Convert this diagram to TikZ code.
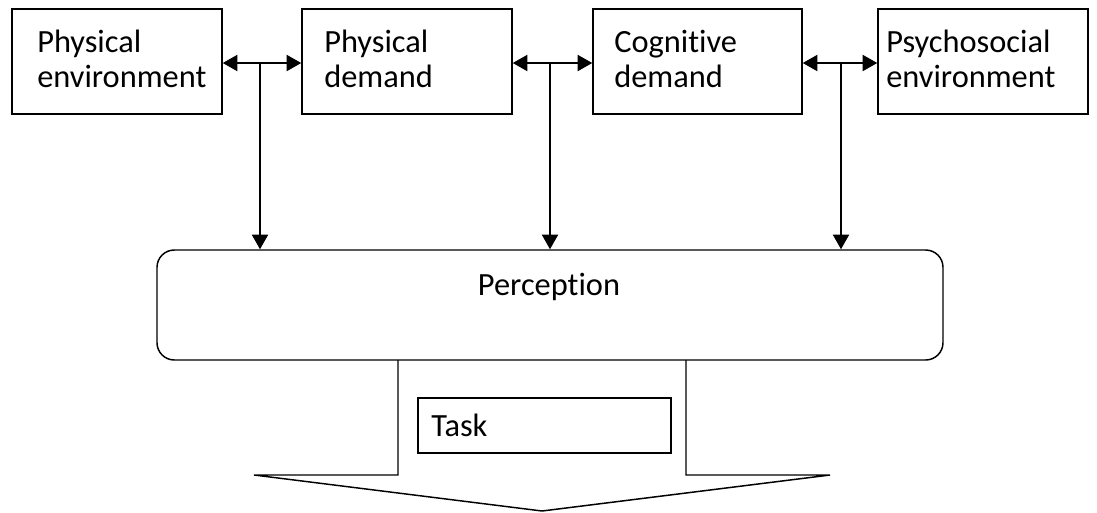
\documentclass[tikz,border=0pt]{standalone}
\usepackage{fontspec}
\setmainfont{Carlito}[Ligatures={NoCommon,NoContextual}]
\usetikzlibrary{arrows.meta}
\begin{document}
\begin{tikzpicture}[x=0.75pt,y=-0.75pt,
  box/.style={draw,line width=1.1pt},
  topbox/.style={box,minimum width=157.5pt,minimum height=78.75pt,inner sep=0pt},
  lbl/.style={anchor=west,align=left,inner sep=0pt,font=\fontsize{24.3}{26.5}\selectfont},
  conn/.style={line width=1.6pt,-{Triangle[length=11pt,width=12pt]}},
  biconn/.style={line width=1.6pt,{Triangle[length=11pt,width=12pt]}-{Triangle[length=11pt,width=12pt]}}]
\useasboundingbox (0,0) rectangle (1097,512);
% top boxes
\node[topbox] (b1) at (117,61.5) {};
\node[topbox] (b2) at (407,61.5) {};
\node[topbox,minimum width=156.75pt] (b3) at (697.5,61.5) {};
\node[topbox] (b4) at (983,61.5) {};
\node[lbl] (t1) at (37,59) {Physical\\environment};
\node[lbl] (t2) at (324,59) {Physical\\demand};
\node[lbl] (t3) at (614,59) {Cognitive\\demand};
\node[lbl] (t4) at (886,59) {Psychosocial\\environment};
% perception
\node[box,rounded corners=13pt,minimum width=589.5pt,minimum height=82.5pt,inner sep=0pt] (pbox) at (550,305) {};
\node[lbl,anchor=base] (perc) at (549,295) {Perception};
% connectors
\coordinate (j1) at (260,63);
\coordinate (j2) at (550,63);
\coordinate (j3) at (841,63);
\draw[biconn] (b1.east |- j1) -- (b2.west |- j1);
\draw[biconn] (b2.east |- j2) -- (b3.west |- j2);
\draw[biconn] (b3.east |- j3) -- (b4.west |- j3);
\draw[conn] (j1) -- (j1 |- pbox.north);
\draw[conn] (j2) -- (j2 |- pbox.north);
\draw[conn] (j3) -- (j3 |- pbox.north);
% big arrow
\draw[box,line join=miter] (398,360) -- (398,475) -- (254,475) -- (542,511) -- (830,475) -- (686,475) -- (686,360);
% task
\node[box,minimum width=189.75pt,minimum height=41.25pt,inner sep=0pt] (tbox) at (544.5,425.5) {};
\node[lbl,anchor=base west] (task) at (431,436) {Task};
\end{tikzpicture}
\end{document}
